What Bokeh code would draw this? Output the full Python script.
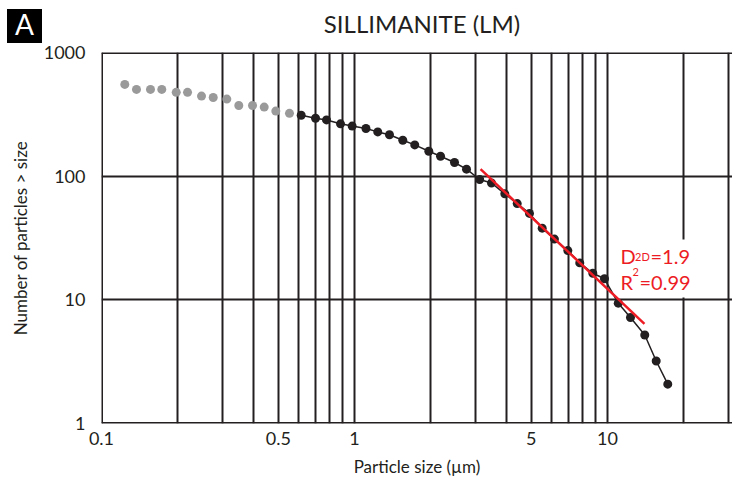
import math
from bokeh.plotting import figure
from bokeh.layouts import column
from bokeh.models import (Range1d, FixedTicker, CustomJSTickFormatter, Label,
                          ColumnDataSource, Span, Div)
from bokeh.embed import file_html
from bokeh.resources import INLINE

# ---------------- data ----------------
size_um = [0.1236, 0.1375, 0.1562, 0.1731, 0.1974, 0.2188, 0.2485, 0.2764,
           0.3129, 0.3489, 0.3953, 0.4397, 0.4886, 0.5534,
           0.6157, 0.7014, 0.7753, 0.8805, 0.979, 1.110, 1.236, 1.375,
           1.552, 1.731, 1.967, 2.188, 2.485, 2.772, 3.125, 3.479,
           3.928, 4.397, 4.917, 5.52, 6.17, 6.97, 7.77, 8.75,
           9.73, 11.03, 12.33, 14.04, 15.58, 17.31]
count = [552, 503, 503, 503, 476, 476, 444, 433, 420, 373, 373, 362, 336, 322,
         311, 294, 285, 265, 254, 243, 228, 216, 195, 179, 159, 145, 129, 114,
         94, 88, 72, 60, 50, 38, 31, 25, 19.9, 16.4, 14.8, 9.4, 7.2, 5.2,
         3.2, 2.08]
n_gray = 14  # first points shown in grey (excluded from the fit)

fit_x = [3.15, 14.0]
fit_y = [114, 6.4]

x_major_ticks = [0.1, 0.5, 1, 5, 10]
y_major_ticks = [1, 10, 100, 1000]
x_grid_ticks = [0.2, 0.3, 0.4, 0.5, 0.6, 0.7, 0.8, 0.9, 1, 2, 3, 4, 5, 6, 7,
                8, 9, 10, 20, 30]
y_grid_ticks = [10, 100]

title_text = "SILLIMANITE (LM)"
panel_text = "A"

FONT = "Lato"
INK = "#231f20"
RED = "#ed1c24"
GREY = "#9a9a9a"

W, H = 732, 486
HEAD_H = 44

# ---------------- header strip (panel letter + title) ----------------
head_html = (
    f'<div style="position:relative;width:{W}px;height:{HEAD_H}px;'
    f'margin:0;padding:0;overflow:hidden;background:#fff;">'
    f'<div style="position:absolute;left:7px;top:9px;width:35px;height:34px;'
    f'background:#000;color:#fff;font-family:{FONT};font-size:28px;'
    f'line-height:30px;text-align:center;">{panel_text}</div>'
    f'<div style="position:absolute;left:222px;top:11.5px;width:400px;'
    f'color:{INK};font-family:{FONT};font-size:24px;line-height:24px;'
    f'text-align:center;white-space:nowrap;">{title_text}</div>'
    f'</div>'
)
head = Div(text=head_html, width=W, height=HEAD_H, margin=0)

# ---------------- main chart ----------------
X0, X1 = 0.1, 31.2
Y0, Y1 = 1, 1000
FL, FR, FT, FB = 101, 732, 52, 423   # frame edges in page px
p = figure(width=W, height=H - HEAD_H, x_axis_type="log", y_axis_type="log",
           x_range=Range1d(X0, X1), y_range=Range1d(Y0, Y1), title=None,
           output_backend="svg", toolbar_location=None,
           min_border_left=FL, min_border_right=0,
           min_border_top=FT - HEAD_H, min_border_bottom=H - FB,
           frame_align=False)
p.background_fill_color = "white"
p.border_fill_color = "white"
p.outline_line_color = None

def sx2x(sx):
    return 10 ** (math.log10(X0) + (sx - FL) / (FR - FL) * (math.log10(X1) - math.log10(X0)))
def sy2y(sy):
    return 10 ** (math.log10(Y0) + (FB - sy) / (FB - FT) * (math.log10(Y1) - math.log10(Y0)))

# grids
p.xgrid.ticker = FixedTicker(ticks=x_grid_ticks)
p.ygrid.ticker = FixedTicker(ticks=y_grid_ticks)
for g in (p.xgrid, p.ygrid):
    g.grid_line_color = INK
    g.grid_line_width = 2
    g.grid_line_alpha = 1.0

# axes
fmt = CustomJSTickFormatter(code="return String(tick);")
p.xaxis.ticker = FixedTicker(ticks=x_major_ticks)
p.yaxis.ticker = FixedTicker(ticks=y_major_ticks)
for ax in (p.xaxis, p.yaxis):
    ax.formatter = fmt
    ax.axis_line_color = None
    ax.major_tick_line_color = None
    ax.minor_tick_line_color = None
    ax.major_tick_out = 0
    ax.major_tick_in = 0
    ax.minor_tick_out = 0
    ax.major_label_text_font = FONT
    ax.major_label_text_font_size = "18px"
    ax.major_label_text_color = INK
    ax.axis_label_text_font = FONT
    ax.axis_label_text_font_size = "17px"
    ax.axis_label_text_font_style = "normal"
    ax.axis_label_text_color = INK
p.xaxis.major_label_standoff = 8
p.yaxis.major_label_standoff = 16
p.xaxis.axis_label = "Particle size (\u00b5m)"
p.yaxis.axis_label = "Number of particles > size"
p.xaxis.axis_label_standoff = 8
p.yaxis.axis_label_standoff = 10

# frame (top, bottom, left; the right side is open)
for loc, dim in ((Y0, "width"), (Y1, "width"), (X0, "height")):
    p.add_layout(Span(location=loc, dimension=dim, line_color=INK,
                      line_width=3, level="overlay"))

# data
grey = ColumnDataSource(dict(x=size_um[:n_gray], y=count[:n_gray]))
black = ColumnDataSource(dict(x=size_um[n_gray:], y=count[n_gray:]))
p.scatter("x", "y", source=grey, size=9, color=GREY, line_color=None)
p.line("x", "y", source=black, line_color=INK, line_width=1.5)
p.scatter("x", "y", source=black, size=9, color=INK, line_color=None)
p.line(fit_x, fit_y, line_color=RED, line_width=2.5)

def lab(text, sx, sy, size, bg=None, pad=0):
    kw = {}
    if bg:
        kw = dict(background_fill_color=bg, padding=pad)
    p.add_layout(Label(x=sx2x(sx), y=sy2y(sy), text=text, text_font=FONT,
                       text_font_size=size, text_color=RED, text_align="left",
                       text_baseline="alphabetic", **kw))

lab("=1.9", 648, 255, "20px", bg="white", pad=(2, 4))
lab("=0.99", 637, 281, "20px", bg="white", pad=(2, 4))
lab("D", 620, 255, "20px")
lab("2D", 634.5, 256, "11px")
lab("R", 620, 281, "20px")
lab("2", 632, 271, "11px")

layout = column(head, p, spacing=0)
open("out.html", "w").write(file_html(layout, INLINE))
